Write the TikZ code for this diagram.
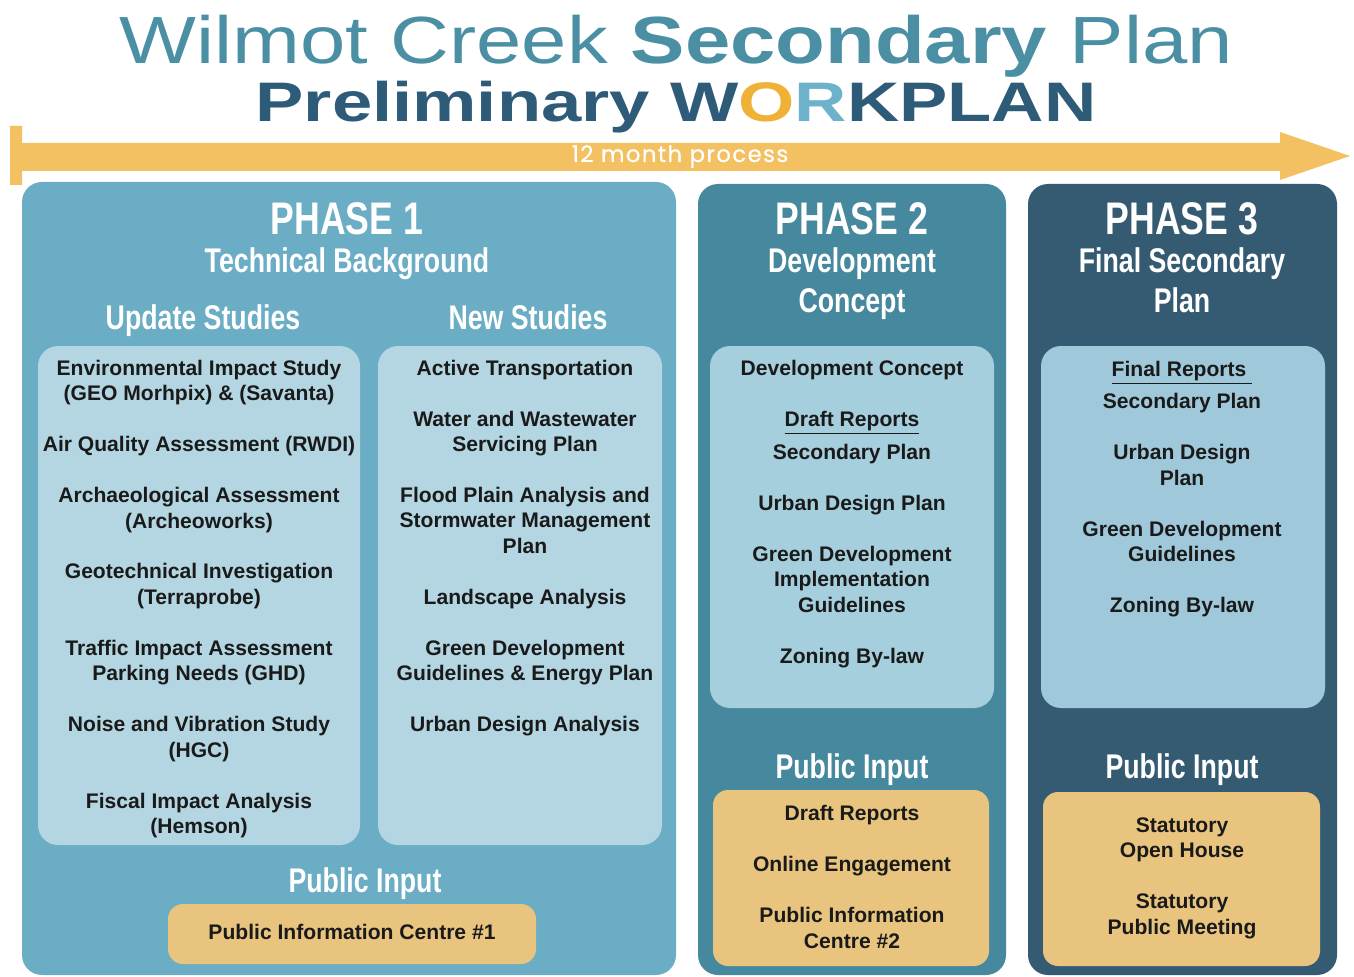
\documentclass[tikz,border=0pt]{standalone}
\usepackage{fontspec}
\setmainfont{Liberation Sans}
\newfontfamily\titlefont[FakeStretch=1.22]{Liberation Sans}
\newfontfamily\planfont[FakeStretch=1.3]{Liberation Sans}
\newfontfamily\headfont[FakeStretch=0.78]{Liberation Sans}
\newfontfamily\arrowfont[FakeBold=0.6, LetterSpace=6]{Poppins}
\usetikzlibrary{fit}

\definecolor{titleteal}{HTML}{4A8FA3}
\definecolor{titledark}{HTML}{2E5B78}
\definecolor{workorange}{HTML}{F0B236}
\definecolor{worklight}{HTML}{6CB2CB}
\definecolor{arrowgold}{HTML}{F3C062}
\definecolor{phaseone}{HTML}{6AADC4}
\definecolor{phasetwo}{HTML}{46889D}
\definecolor{phasethree}{HTML}{355B73}
\definecolor{boxone}{HTML}{B3D6E2}
\definecolor{boxtwo}{HTML}{A6CFDE}
\definecolor{boxthree}{HTML}{9FC9DA}
\definecolor{pubfill}{HTML}{E8C47E}
\definecolor{bodytext}{HTML}{1A1A1A}

\tikzstyle{panel} = [rectangle, rounded corners=0.4cm, inner sep=0pt]
\tikzstyle{listbox} = [rectangle, rounded corners=0.4cm, inner sep=0pt]
\tikzstyle{pubbox} = [rectangle, rounded corners=0.3cm, inner sep=0pt, fill=pubfill]
\tikzstyle{phasehead} = [anchor=base, text=white, font=\headfont\bfseries\fontsize{26}{28}\selectfont]
\tikzstyle{subhead} = [anchor=base, text=white, align=center, font=\headfont\bfseries\fontsize{19.5}{22.7}\selectfont]
\tikzstyle{study} = [align=center, text=bodytext, font=\bfseries\fontsize{12}{14.5}\selectfont]

\begin{document}
\begin{tikzpicture}[x=0.02cm, y=-0.02cm]
	\useasboundingbox (0,0) rectangle (1354,976);

	% Title
	\node[anchor=base, text=titleteal, font=\titlefont\fontsize{38}{40}\selectfont] (title) at (676,64) {Wilmot Creek \textbf{Secondary} Plan};
	\node[anchor=base, text=titledark, font=\planfont\bfseries\fontsize{31.7}{34}\selectfont] (subtitle) at (676,122) {Preliminary W{\color{workorange}O}{\color{worklight}R}KPLAN};

	% Timeline arrow
	\fill[arrowgold] (10,126) -- (22,126) -- (22,143) -- (1280,143) -- (1280,132) -- (1350,156) -- (1280,180) -- (1280,171) -- (22,171) -- (22,185) -- (10,185) -- cycle;
	\node[anchor=base, text=white, font=\arrowfont\fontsize{13}{15}\selectfont] (months) at (680,162) {12 month process};

	% Phase panels
	\node[panel, fill=phaseone, fit={(22,182) (676,975)}] (phase1) {};
	\node[panel, fill=phasetwo, fit={(698,184) (1006,975)}] (phase2) {};
	\node[panel, fill=phasethree, fit={(1028,184) (1337,975)}] (phase3) {};

	\node[listbox, fill=boxone, fit={(38,346) (360,845)}] (update) {};
	\node[listbox, fill=boxone, fit={(378,346) (662,845)}] (new) {};
	\node[listbox, fill=boxtwo, fit={(710,346) (994,708)}] (draft) {};
	\node[listbox, fill=boxthree, fit={(1041,346) (1325,708)}] (final) {};

	\node[pubbox, fit={(168,904) (536,964)}] (pub1) {};
	\node[pubbox, fit={(713,790) (989,966)}] (pub2) {};
	\node[pubbox, fit={(1043,792) (1320,966)}] (pub3) {};

	% Headings (placed on their last baselines)
	\node[phasehead] (head1) at (347,235) {PHASE 1};
	\node[subhead] (tech) at (347,273) {Technical Background};
	\node[subhead] (updatehead) at (203,329) {Update Studies};
	\node[subhead] (newhead) at (528,329) {New Studies};
	\node[subhead] (input1) at (365,892) {Public Input};

	\node[phasehead] (head2) at (852,235) {PHASE 2};
	\node[subhead] (devhead) at (852,312) {Development\\Concept};
	\node[subhead] (input2) at (852,778) {Public Input};

	\node[phasehead] (head3) at (1182,235) {PHASE 3};
	\node[subhead] (finalhead) at (1182,312) {Final Secondary\\Plan};
	\node[subhead] (input3) at (1182,778) {Public Input};

	% Labels
	\node[study] (updatelist) at (199,599) {Environmental Impact Study\\(GEO Morhpix) \& (Savanta)\\[14.5pt]
		Air Quality Assessment (RWDI)\\[14.5pt]
		Archaeological Assessment\\(Archeoworks)\\[14.5pt]
		Geotechnical Investigation\\(Terraprobe)\\[14.5pt]
		Traffic Impact Assessment\\Parking Needs (GHD)\\[14.5pt]
		Noise and Vibration Study\\(HGC)\\[14.5pt]
		Fiscal Impact Analysis\\(Hemson)};
	\node[study] (newlist) at (525,548) {Active Transportation\\[14.5pt]
		Water and Wastewater\\Servicing Plan\\[14.5pt]
		Flood Plain Analysis and\\Stormwater Management\\Plan\\[14.5pt]
		Landscape Analysis\\[14.5pt]
		Green Development\\Guidelines \& Energy Plan\\[14.5pt]
		Urban Design Analysis};
	\node[study] (draftlist) at (852,514) {Development Concept\\[14.5pt]
		\underline{Draft Reports}\\[4pt]
		Secondary Plan\\[14.5pt]
		Urban Design Plan\\[14.5pt]
		Green Development\\Implementation\\Guidelines\\[14.5pt]
		Zoning By-law};
	\node[study] (finallist) at (1182,489) {\underline{Final Reports\ }\\[4pt]
		Secondary Plan\\[14.5pt]
		Urban Design\\Plan\\[14.5pt]
		Green Development\\Guidelines\\[14.5pt]
		Zoning By-law};

	\node[study] (pic1) at (352,932) {Public Information Centre \#1};
	\node[study] (pub2list) at (852,877) {Draft Reports\\[14.5pt]
		Online Engagement\\[14.5pt]
		Public Information\\Centre \#2};
	\node[study] (pub3list) at (1182,878) {Statutory\\Open House\\[14.5pt]
		Statutory\\Public Meeting};
\end{tikzpicture}
\end{document}
